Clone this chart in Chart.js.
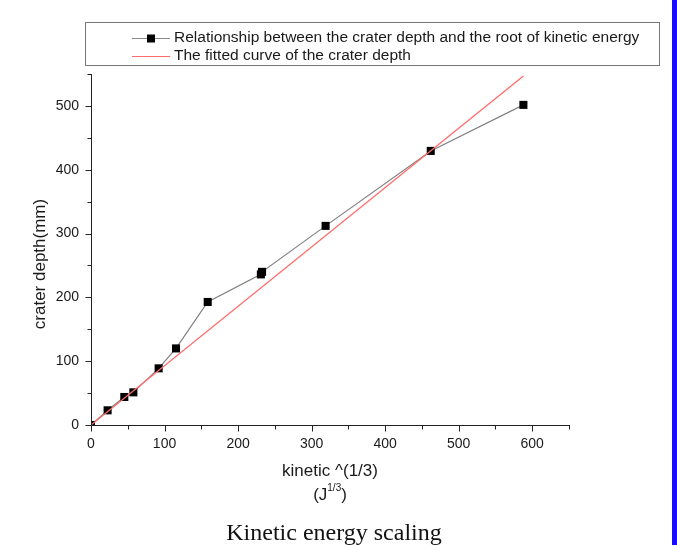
<!DOCTYPE html>
<html>
<head>
<meta charset="utf-8">
<script src="https://cdn.jsdelivr.net/npm/chart.js@4"></script>
<style>
  html, body { margin: 0; padding: 0; background: #ffffff; }
  #wrap { position: relative; width: 677px; height: 545px; overflow: hidden; }
  #bar { position: absolute; left: 672px; top: 0; width: 5px; height: 545px; background: #1a0aff; }
</style>
</head>
<body>
<div id="wrap">
  <canvas id="crater" width="677" height="545"></canvas>
  <div id="bar"></div>
</div>
<script>
var kinetic = [0, 22.6, 45.3, 57.6, 92, 115.6, 158.7, 231, 232.6, 319, 462, 588];
var depth   = [0, 23, 43.9, 51.2, 88.8, 120, 192.8, 236, 240, 312, 429.5, 501.6];

// fitted line end points
var fitX = [0, 588];
var fitY = [0, 547];

var xTicks = [0, 100, 200, 300, 400, 500, 600];
var yTicks = [0, 100, 200, 300, 400, 500];

var legendLabels = [
    'Relationship between the crater depth and the root of kinetic energy',
    'The fitted curve of the crater depth'
];

var FONT = '"Liberation Sans", Arial, sans-serif';
var INK = '#1a1a1a';

function pairs(xs, ys)
{
    var out = [];
    for (let i in xs) {
        out.push({x: xs[i], y: ys[i]});
    }
    return out;
}

// axis lines, major + minor ticks, titles, legend, caption
var decorations = {
    id: 'decorations',
    afterDraw: function(chart)
    {
        var ctx = chart.ctx;
        var xs = chart.scales.x, ys = chart.scales.y;
        var area = chart.chartArea;
        var x0 = Math.round(area.left) + 0.5;
        var y0 = Math.round(area.bottom) + 0.5;

        ctx.save();
        ctx.strokeStyle = '#222';
        ctx.lineWidth = 1;
        ctx.beginPath();
        ctx.moveTo(x0, Math.round(area.top));
        ctx.lineTo(x0, y0);
        ctx.lineTo(Math.round(area.right) + 1, y0);

        for (var v = 0; v <= 650; v += 50) {
            var px = Math.round(xs.getPixelForValue(v)) + 0.5;
            var len = (v % 100 === 0) ? 6 : 4;
            ctx.moveTo(px, y0);
            ctx.lineTo(px, y0 + len);
        }
        for (var w = 0; w <= 550; w += 50) {
            var py = Math.round(ys.getPixelForValue(w)) + 0.5;
            var l2 = (w % 100 === 0) ? 6 : 4;
            ctx.moveTo(x0, py);
            ctx.lineTo(x0 - l2, py);
        }
        ctx.stroke();

        // axis titles
        ctx.fillStyle = INK;
        ctx.font = '17px ' + FONT;
        ctx.textAlign = 'center';
        ctx.textBaseline = 'middle';
        ctx.fillText('kinetic ^(1/3)', 330, 471);

        // (J^1/3) with superscript
        var a = '(J', s = '1/3', b = ')';
        ctx.font = '17px ' + FONT;
        var wa = ctx.measureText(a).width, wb = ctx.measureText(b).width;
        ctx.font = '10px ' + FONT;
        var ws = ctx.measureText(s).width;
        var start = 330 - (wa + ws + wb) / 2;
        ctx.textAlign = 'left';
        ctx.font = '17px ' + FONT;
        ctx.fillText(a, start, 495);
        ctx.fillText(b, start + wa + ws, 495);
        ctx.font = '10px ' + FONT;
        ctx.fillText(s, start + wa, 488);

        ctx.save();
        ctx.translate(40, 264);
        ctx.rotate(-Math.PI / 2);
        ctx.textAlign = 'center';
        ctx.font = '17px ' + FONT;
        ctx.fillText('crater depth(mm)', 0, 0);
        ctx.restore();

        // legend box
        ctx.strokeStyle = '#777';
        ctx.strokeRect(85.5, 22.5, 574, 43);
        ctx.lineWidth = 1.2;
        ctx.strokeStyle = '#8a8a8a';
        ctx.beginPath();
        ctx.moveTo(132, 38.5);
        ctx.lineTo(170, 38.5);
        ctx.stroke();
        ctx.fillStyle = '#000';
        ctx.fillRect(147, 34.5, 8, 8);
        ctx.strokeStyle = '#ff6b6b';
        ctx.beginPath();
        ctx.moveTo(132, 56.5);
        ctx.lineTo(170, 56.5);
        ctx.stroke();

        ctx.fillStyle = INK;
        ctx.font = '15.5px ' + FONT;
        ctx.textAlign = 'left';
        ctx.fillText(legendLabels[0], 174, 38);
        ctx.fillText(legendLabels[1], 174, 56);

        // caption
        ctx.font = '24px "Liberation Serif", "Times New Roman", serif';
        ctx.textAlign = 'center';
        ctx.textBaseline = 'alphabetic';
        ctx.fillStyle = '#111';
        ctx.fillText('Kinetic energy scaling', 334, 540);
        ctx.restore();
    }
};

var crater_chart = document.getElementById('crater').getContext('2d');
var render_crater_chart = new Chart(crater_chart,
{
    type: 'scatter',

    data:
        {
            datasets:
            [{
                label: legendLabels[0],
                data: pairs(kinetic, depth),
                showLine: true,
                borderColor: '#808080',
                borderWidth: 1.2,
                pointStyle: 'rect',
                pointRadius: 5.7,
                pointBackgroundColor: '#000',
                pointBorderColor: '#000',
                pointBorderWidth: 0,
                order: 1
            },
            {
                label: legendLabels[1],
                data: pairs(fitX, fitY),
                showLine: true,
                borderColor: '#ff6b6b',
                borderWidth: 1.3,
                pointRadius: 0,
                order: 0
            }]
        },

    options:
        {
            responsive: false,
            animation: false,
            devicePixelRatio: 1,
            layout: { padding: { left: 0, top: 74, right: 108, bottom: 0 } },
            plugins: {
                legend: { display: false },
                tooltip: { enabled: false }
            },
            scales: {
                x: {
                    type: 'linear',
                    min: 0,
                    max: 650,
                    grid: { display: false, drawTicks: false },
                    border: { display: false },
                    afterFit: function(scale) { scale.height = 120; },
                    afterBuildTicks: function(scale) {
                        scale.ticks = xTicks.map(function(v) { return {value: v}; });
                    },
                    ticks: {
                        padding: 11,
                        color: INK,
                        maxRotation: 0,
                        font: { family: FONT, size: 14 }
                    }
                },
                y: {
                    type: 'linear',
                    min: 0,
                    max: 550,
                    grid: { display: false, drawTicks: false },
                    border: { display: false },
                    afterFit: function(scale) { scale.width = 91; },
                    afterBuildTicks: function(scale) {
                        scale.ticks = yTicks.map(function(v) { return {value: v}; });
                    },
                    ticks: {
                        padding: 12,
                        color: INK,
                        font: { family: FONT, size: 14 }
                    }
                }
            }
        },
    plugins: [decorations]
});
</script>
</body>
</html>
